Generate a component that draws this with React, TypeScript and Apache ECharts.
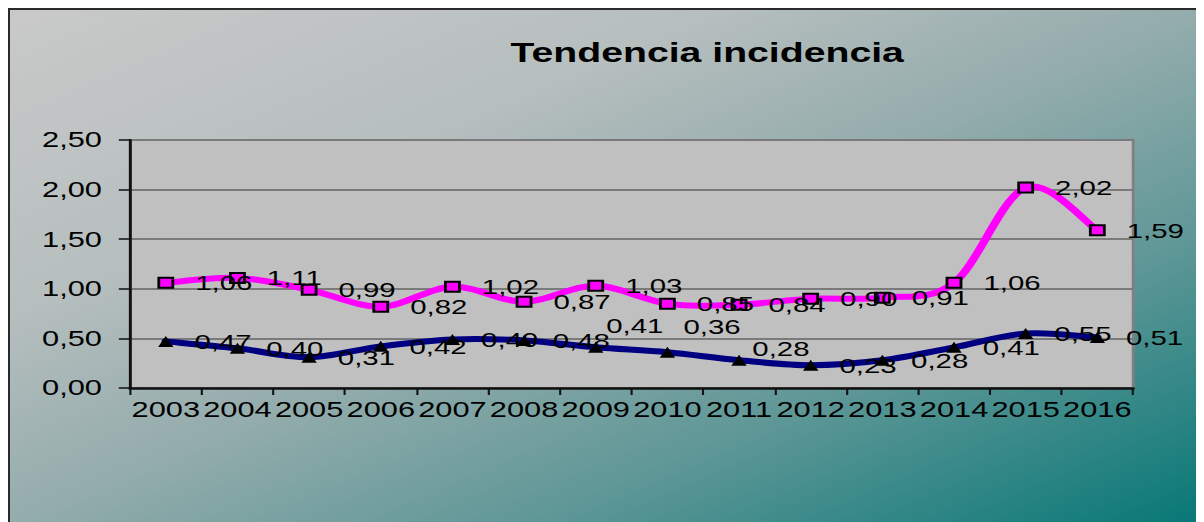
import React, { useEffect, useRef } from "react";
import * as echarts from "echarts";

const years = ["2003", "2004", "2005", "2006", "2007", "2008", "2009", "2010", "2011", "2012", "2013", "2014", "2015", "2016"];
const pinkValues = [1.06, 1.11, 0.99, 0.82, 1.02, 0.87, 1.03, 0.85, 0.84, 0.9, 0.91, 1.06, 2.02, 1.59];
const navyValues = [0.47, 0.4, 0.31, 0.42, 0.49, 0.48, 0.41, 0.36, 0.28, 0.23, 0.28, 0.41, 0.55, 0.51];
const yTicks = { min: 0, max: 2.5, interval: 0.5 };
const titleText = "Tendencia incidencia";

// label nudges (style only), keyed by point index
const navyLabelNudge: Record<number, [number, number]> = {
  6: [-13, -22],
  7: [-9, -26],
  8: [-11, -12],
};

const SCALE_X = 1.4;
const WRAP_W = 1196;
const WRAP_H = 514;
const CHART_W = (WRAP_W - 2) / SCALE_X;
const CHART_H = WRAP_H - 2;
const FONT = "'Liberation Sans', Arial, sans-serif";

const fmt = (v: number) => v.toFixed(2).replace(".", ",");

// Excel-like smoothed curve (Catmull-Rom as cubic Bezier) through the points
function smoothLineSeries(values: number[], color: string, width: number) {
  return {
    type: "custom",
    coordinateSystem: "cartesian2d",
    data: [[0, values[0]]],
    silent: true,
    z: 2,
    renderItem: (_params: any, api: any) => {
      const p = values.map((v, i) => api.coord([i, v]));
      let d = `M${p[0][0]},${p[0][1]}`;
      for (let i = 0; i < p.length - 1; i++) {
        const p0 = p[i - 1] || p[i];
        const p1 = p[i];
        const p2 = p[i + 1];
        const p3 = p[i + 2] || p[i + 1];
        const c1x = p1[0] + (p2[0] - p0[0]) / 6;
        const c1y = p1[1] + (p2[1] - p0[1]) / 6;
        const c2x = p2[0] - (p3[0] - p1[0]) / 6;
        const c2y = p2[1] - (p3[1] - p1[1]) / 6;
        d += ` C${c1x},${c1y} ${c2x},${c2y} ${p2[0]},${p2[1]}`;
      }
      return {
        type: "path",
        shape: { pathData: d },
        style: { fill: "none", stroke: color, lineWidth: width, lineJoin: "round", lineCap: "round" },
      };
    },
  };
}

export default function App() {
  const ref = useRef<HTMLDivElement>(null);

  useEffect(() => {
    if (!ref.current) return;
    const chart = echarts.init(ref.current, undefined, { renderer: "svg" });
    const labelBase = {
      show: true,
      position: "right" as const,
      distance: 15,
      fontSize: 21,
      fontFamily: FONT,
      color: "#000",
      formatter: (p: any) => fmt(typeof p.value === "number" ? p.value : p.data.value),
    };
    chart.setOption({
      animation: false,
      backgroundColor: new echarts.graphic.LinearGradient(0, 0, 1, 1, [
        { offset: 0, color: "#c9c9c9" },
        { offset: 0.3, color: "#b6bebe" },
        { offset: 0.5, color: "#94acac" },
        { offset: 0.72, color: "#5f9797" },
        { offset: 1, color: "#077876" },
      ]),
      title: {
        text: titleText,
        left: 493,
        top: 23,
        textAlign: "center",
        textStyle: { fontSize: 28, fontWeight: "bold", fontFamily: FONT, color: "#000" },
      },
      grid: {
        left: 85.7,
        right: CHART_W - 802.1,
        top: 130,
        bottom: CHART_H - 378,
        show: true,
        backgroundColor: "#c0c0c0",
        borderColor: "#808080",
        borderWidth: 2,
      },
      xAxis: {
        type: "category",
        data: years,
        boundaryGap: true,
        axisLine: { lineStyle: { color: "#111", width: 2.5 } },
        axisTick: { show: true, length: 7, lineStyle: { color: "#111", width: 1.5 } },
        axisLabel: { interval: 0, margin: 11, fontSize: 22, fontFamily: FONT, color: "#000" },
        splitLine: { show: false },
      },
      yAxis: {
        type: "value",
        min: yTicks.min,
        max: yTicks.max,
        interval: yTicks.interval,
        axisLine: { show: true, lineStyle: { color: "#111", width: 2 } },
        axisTick: { show: true, length: 8, lineStyle: { color: "#111", width: 1.5 } },
        axisLabel: { margin: 20, fontSize: 22, fontFamily: FONT, color: "#000", formatter: (v: number) => fmt(v) },
        splitLine: { show: true, lineStyle: { color: "#7a7a7a", width: 2 } },
      },
      series: [
        smoothLineSeries(pinkValues, "#ff00ff", 6),
        smoothLineSeries(navyValues, "#000080", 6),
        {
          type: "line",
          data: pinkValues,
          symbol: "rect",
          symbolSize: 10,
          showAllSymbol: true,
          lineStyle: { opacity: 0, width: 0 },
          itemStyle: { color: "#ff00ff", borderColor: "#000", borderWidth: 2 },
          label: labelBase,
          z: 3,
        },
        {
          type: "line",
          data: navyValues.map((v, i) => {
            const n = navyLabelNudge[i];
            return n ? { value: v, label: { offset: n } } : v;
          }),
          symbol: "triangle",
          symbolSize: 11,
          showAllSymbol: true,
          lineStyle: { opacity: 0, width: 0 },
          itemStyle: { color: "#000", borderWidth: 0 },
          label: labelBase,
          z: 3,
        },
      ],
    });
    return () => chart.dispose();
  }, []);

  return (
    <div
      style={{
        width: WRAP_W,
        height: WRAP_H,
        overflow: "hidden",
        boxSizing: "border-box",
        borderLeft: "2px solid #2a2a2a",
        borderTop: "2px solid #2a2a2a",
      }}
    >
      <div
        ref={ref}
        style={{
          width: CHART_W,
          height: CHART_H,
          transform: `scaleX(${SCALE_X})`,
          transformOrigin: "0 0",
        }}
      />
    </div>
  );
}
